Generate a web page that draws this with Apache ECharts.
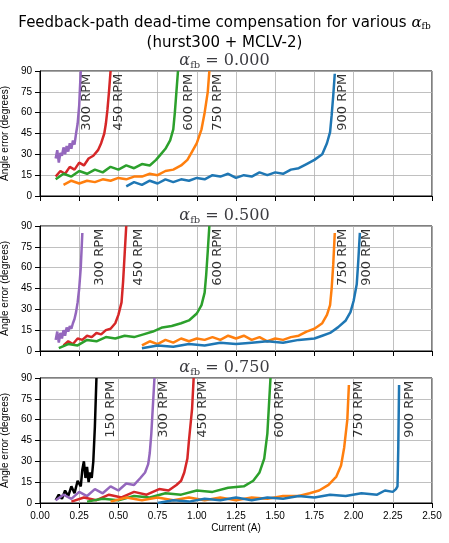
<!DOCTYPE html><html><head><meta charset="utf-8">
<script src="https://cdn.jsdelivr.net/npm/echarts@6/dist/echarts.min.js"></script>
<style>html,body{margin:0;padding:0;background:#fff}#c{width:449px;height:543px}</style></head><body><div id="c"></div>
<script>
const xTicks=[0,0.25,0.5,0.75,1,1.25,1.5,1.75,2,2.25,2.5];
const alphas=['0.000','0.500','0.750'];
const colors={150:'#000000',300:'#9467bd',450:'#d62728',600:'#2ca02c',750:'#ff7f0e',900:'#1f77b4'};
// panel 1 (alpha 0.000)
const p1_300=[[0.1,27],[0.11,33],[0.12,24],[0.13,31],[0.14,29],[0.15,35],[0.16,30],[0.17,36],[0.18,32],[0.19,38],[0.2,34],[0.21,40],[0.22,37],[0.23,45],[0.24,52],[0.25,65],[0.255,78],[0.26,90]];
const p1_450=[[0.1,14],[0.13,18],[0.16,16],[0.19,21],[0.22,19],[0.25,24],[0.28,22],[0.31,27],[0.34,29],[0.37,33],[0.39,38],[0.41,45],[0.42,52],[0.43,62],[0.44,75],[0.45,90]];
const p1_600=[[0.1,12],[0.15,16],[0.2,14],[0.25,18],[0.3,16],[0.35,19],[0.4,17],[0.45,21],[0.5,19],[0.55,22],[0.6,20],[0.65,23],[0.7,22],[0.74,26],[0.77,30],[0.8,34],[0.83,40],[0.85,48],[0.86,60],[0.87,75],[0.88,90]];
const p1_750=[[0.15,8],[0.2,11],[0.25,9],[0.3,11],[0.35,10],[0.4,12],[0.45,11],[0.5,13],[0.55,12],[0.6,14],[0.65,14],[0.7,16],[0.75,15],[0.8,18],[0.85,19],[0.9,22],[0.94,26],[0.97,32],[1.0,38],[1.03,48],[1.05,60],[1.07,75],[1.08,90]];
const p1_900=[[0.55,7],[0.6,10],[0.65,8],[0.7,11],[0.75,9],[0.8,12],[0.85,10],[0.9,12],[0.95,11],[1.0,13],[1.05,12],[1.1,15],[1.15,14],[1.2,16],[1.25,13],[1.3,15],[1.35,14],[1.4,17],[1.45,15],[1.5,17],[1.55,16],[1.6,19],[1.65,20],[1.7,23],[1.75,26],[1.8,30],[1.83,38],[1.85,46],[1.86,58],[1.87,72],[1.88,88]];
// panel 2 (alpha 0.500)
const p2_300=[[0.1,8],[0.11,14],[0.12,6],[0.13,13],[0.14,9],[0.15,15],[0.16,11],[0.17,17],[0.18,14],[0.19,18],[0.2,16],[0.21,20],[0.22,23],[0.23,28],[0.24,35],[0.25,45],[0.26,60],[0.27,85]];
const p2_450=[[0.15,4],[0.18,7],[0.21,5],[0.24,9],[0.27,8],[0.3,11],[0.33,10],[0.36,13],[0.39,12],[0.42,15],[0.45,16],[0.48,20],[0.5,26],[0.52,35],[0.53,50],[0.54,70],[0.55,90]];
const p2_600=[[0.12,2],[0.18,5],[0.24,4],[0.3,8],[0.36,7],[0.42,10],[0.48,9],[0.54,11],[0.6,10],[0.66,12],[0.72,14],[0.78,17],[0.84,18],[0.9,20],[0.95,22],[1.0,27],[1.03,33],[1.05,42],[1.06,55],[1.07,72],[1.08,90]];
const p2_750=[[0.65,4],[0.7,7],[0.75,5],[0.8,8],[0.85,6],[0.9,9],[0.95,7],[1.0,9],[1.05,8],[1.1,10],[1.15,8],[1.2,11],[1.25,9],[1.3,11],[1.35,8],[1.4,10],[1.45,7],[1.5,9],[1.55,8],[1.6,10],[1.65,11],[1.7,14],[1.75,16],[1.8,20],[1.83,26],[1.85,33],[1.86,45],[1.87,62],[1.88,85]];
const p2_900=[[0.65,2],[0.75,4],[0.85,3],[0.95,5],[1.05,4],[1.15,6],[1.25,5],[1.35,6],[1.45,7],[1.55,6],[1.65,8],[1.75,9],[1.8,11],[1.85,13],[1.9,17],[1.95,22],[1.98,28],[2.0,36],[2.02,48],[2.03,65],[2.04,85]];
// panel 3 (alpha 0.750)
const p3_150=[[0.1,2],[0.12,6],[0.14,3],[0.16,9],[0.18,5],[0.2,12],[0.22,7],[0.24,16],[0.26,12],[0.27,24],[0.28,30],[0.29,18],[0.3,26],[0.31,15],[0.32,22],[0.33,18],[0.34,30],[0.35,55],[0.36,90]];
const p3_300=[[0.1,2],[0.15,6],[0.2,3],[0.25,8],[0.3,5],[0.35,10],[0.4,7],[0.45,12],[0.5,9],[0.55,14],[0.6,13],[0.64,18],[0.67,22],[0.69,28],[0.7,36],[0.71,50],[0.72,70],[0.73,90]];
const p3_450=[[0.2,1],[0.28,4],[0.36,2],[0.44,6],[0.52,4],[0.6,8],[0.68,6],[0.76,10],[0.82,9],[0.87,13],[0.9,16],[0.92,22],[0.94,32],[0.95,45],[0.97,68],[0.98,90]];
const p3_600=[[0.3,1],[0.4,3],[0.5,2],[0.6,5],[0.7,4],[0.8,7],[0.9,6],[1.0,9],[1.1,8],[1.2,11],[1.3,12],[1.36,16],[1.4,22],[1.43,32],[1.45,50],[1.46,70],[1.47,90]];
const p3_750=[[0.45,1],[0.55,4],[0.65,2],[0.75,4],[0.85,2],[0.95,4],[1.05,2],[1.15,4],[1.25,2],[1.35,4],[1.45,3],[1.55,5],[1.65,5],[1.72,7],[1.78,9],[1.84,13],[1.89,19],[1.92,27],[1.94,40],[1.96,60],[1.97,85]];
const p3_900=[[0.75,0],[0.85,2],[0.95,1],[1.05,3],[1.15,2],[1.25,4],[1.35,2],[1.45,4],[1.55,3],[1.65,5],[1.75,4],[1.85,6],[1.95,5],[2.05,7],[2.15,6],[2.2,9],[2.25,8],[2.27,10],[2.28,12],[2.285,40],[2.29,85]];
const panels=[
 {lines:[[300,p1_300],[450,p1_450],[600,p1_600],[750,p1_750],[900,p1_900]],labels:[[300,0.3],[450,0.5],[600,0.95],[750,1.13],[900,1.93]]},
 {lines:[[300,p2_300],[450,p2_450],[600,p2_600],[750,p2_750],[900,p2_900]],labels:[[300,0.38],[450,0.63],[600,1.13],[750,1.93],[900,2.08]]},
 {lines:[[150,p3_150],[300,p3_300],[450,p3_450],[600,p3_600],[750,p3_750],[900,p3_900]],labels:[[150,0.45],[300,0.79],[450,1.04],[600,1.53],[750,2.03],[900,2.36]]}
];
const tops=[71,226,378];
const grid=[],xAxis=[],yAxis=[],series=[],titles=[];
titles.push({text:'Feedback-path dead-time compensation for various {a|α}{s|fb}\n(hurst300 + MCLV-2)',left:'center',top:8,
 textStyle:{fontSize:15,fontWeight:'normal',color:'#000',fontFamily:'DejaVu Sans',lineHeight:20,rich:{a:{fontSize:15,fontStyle:'italic',fontWeight:'normal',fontFamily:'DejaVu Serif'},s:{fontSize:9,fontWeight:'normal',fontFamily:'DejaVu Serif',padding:[8,0,0,0]}}}});
panels.forEach((p,i)=>{
 grid.push({left:40,right:17,top:tops[i],height:125,show:true,borderColor:'#000',borderWidth:1,outerBoundsMode:'none',containLabel:false});
 titles.push({text:'{a|α}{s|fb}{t| = '+alphas[i]+'}',left:'center',top:tops[i]-24,textStyle:{fontWeight:'normal',rich:{a:{fontSize:16,fontStyle:'italic',fontWeight:'normal',fontFamily:'DejaVu Serif'},s:{fontSize:10,fontWeight:'normal',fontFamily:'DejaVu Serif',padding:[8,0,0,0]},t:{fontSize:16,fontWeight:'normal',fontFamily:'DejaVu Serif'}}}});
 xAxis.push({gridIndex:i,type:'value',min:0,max:2.5,interval:0.25,
  axisLine:{lineStyle:{color:'#000'}},axisTick:{show:true,lineStyle:{color:'#000'}},
  axisLabel:{show:i===2,fontSize:10,color:'#000',formatter:v=>v.toFixed(2)},
  splitLine:{show:true,lineStyle:{color:'#b0b0b0',width:0.8}},
  name:i===2?'Current (A)':'',nameLocation:'middle',nameGap:20,nameTextStyle:{fontSize:10,color:'#000'}});
 yAxis.push({gridIndex:i,type:'value',min:0,max:90,interval:15,
  axisLine:{show:true,lineStyle:{color:'#000'}},axisTick:{show:true,lineStyle:{color:'#000'}},
  axisLabel:{fontSize:10,color:'#000'},splitLine:{show:true,lineStyle:{color:'#b0b0b0',width:0.8}},
  name:'Angle error (degrees)',nameLocation:'middle',nameGap:24,nameTextStyle:{fontSize:10,color:'#000'}});
 p.lines.forEach(([rpm,d])=>series.push({type:'line',xAxisIndex:i,yAxisIndex:i,data:d,showSymbol:false,
  lineStyle:{color:colors[rpm],width:2.5},itemStyle:{color:colors[rpm]},silent:true,animation:false}));
 series.push({type:'scatter',xAxisIndex:i,yAxisIndex:i,symbolSize:0,animation:false,silent:true,
  data:p.labels.map(([rpm,x])=>({value:[x,88],name:rpm+' RPM'})),
  label:{show:true,formatter:'{b}',rotate:90,position:'inside',align:'right',verticalAlign:'middle',fontSize:13,color:'#000',fontFamily:'DejaVu Sans'}});
});
const ch=echarts.init(document.getElementById('c'));
ch.setOption({backgroundColor:'#fff',animation:false,title:titles,grid,xAxis,yAxis,series});
</script></body></html>
